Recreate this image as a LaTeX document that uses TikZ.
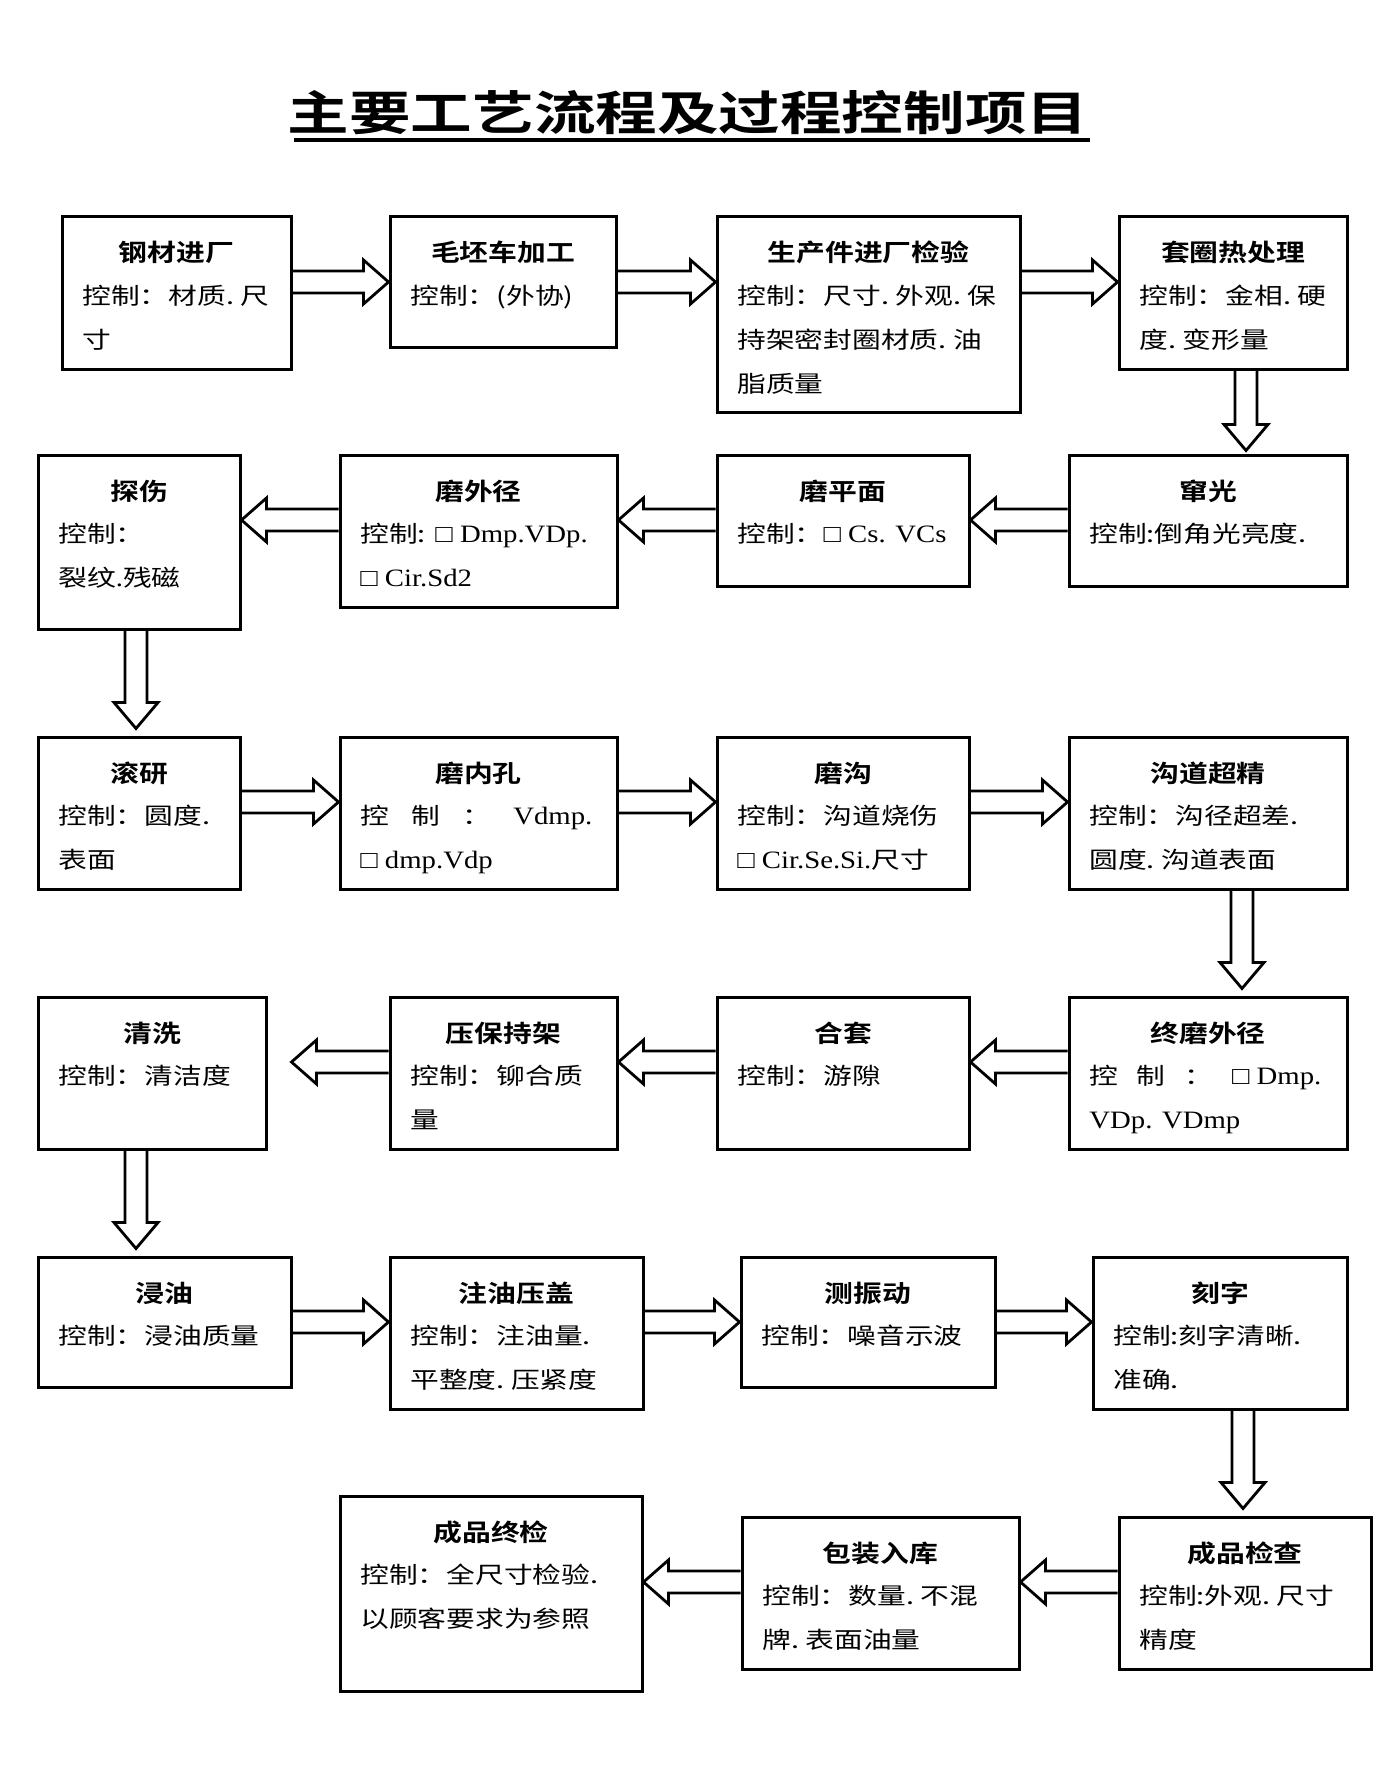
\documentclass[tikz,border=0pt]{standalone}
\usepackage{fontspec}
\usetikzlibrary{calc,fit}
\newfontfamily\cjk[FakeStretch=1.25]{Noto Sans CJK SC}
\newfontfamily\cjkbold[FakeStretch=1.2]{Noto Sans CJK SC Bold}
\newfontfamily\cjktitle[FakeStretch=1.31]{Noto Sans CJK SC Bold}
\newfontfamily\latf[FakeStretch=1.15]{Liberation Serif}
\newcommand\lt[1]{{\latf\fontsize{12.5pt}{22pt}\selectfont #1}}
\newcommand\pd{\makebox[7.2pt][l]{.}}
\tikzset{
  boxst/.style={draw, line width=1.5pt, inner sep=0pt},
  headst/.style={font=\cjkbold\fontsize{12pt}{14pt}\selectfont, inner sep=0pt, anchor=base},
  bodyst/.style={font=\cjk\fontsize{11.5pt}{22pt}\selectfont, inner sep=0pt, anchor=base west},
  arrst/.style={draw, line width=1.4pt, line join=miter}
}
\newcommand\pbox[7]{%
  \node[boxst, fit={(#2,#3)(#4,#5)}] (#1) {};
  \node[headst] (#1h) at ({(#2+#4)/2},{#3+45}) {#6};
  \foreach \t [count=\i] in {#7} {
    \node[bodyst] (#1l\i) at ({#2+20},{#3+43+44*\i}) {\t};
  }
}
\newcommand\rarr[2]{\draw[arrst] let \p1=(#1), \p2=(#2) in
  (\x1,{\y1+5.5pt}) -- ({\x2-12.5pt},{\y1+5.5pt}) -- ({\x2-12.5pt},{\y1+11pt}) -- (\x2,\y1)
  -- ({\x2-12.5pt},{\y1-11pt}) -- ({\x2-12.5pt},{\y1-5.5pt}) -- (\x1,{\y1-5.5pt});}
\newcommand\larr[2]{\draw[arrst] let \p1=(#1), \p2=(#2) in
  (\x1,{\y1+5.5pt}) -- ({\x2+12.5pt},{\y1+5.5pt}) -- ({\x2+12.5pt},{\y1+11pt}) -- (\x2,\y1)
  -- ({\x2+12.5pt},{\y1-11pt}) -- ({\x2+12.5pt},{\y1-5.5pt}) -- (\x1,{\y1-5.5pt});}
\newcommand\darr[2]{\draw[arrst] let \p1=(#1), \p2=(#2) in
  ({\x1+5.5pt},\y1) -- ({\x1+5.5pt},{\y2+13pt}) -- ({\x1+11pt},{\y2+13pt}) -- (\x1,\y2)
  -- ({\x1-11pt},{\y2+13pt}) -- ({\x1-5.5pt},{\y2+13pt}) -- ({\x1-5.5pt},\y1);}
\begin{document}
\begin{tikzpicture}[x=0.5pt,y=-0.5pt]
\useasboundingbox (0,0) rectangle (1377,1776);
\fill[white] (0,0) rectangle (1377,1776);
% title
\node[font=\cjktitle\fontsize{23.5pt}{28pt}\selectfont, inner sep=0pt] (title) at (688,113) {主要工艺流程及过程控制项目};
\draw[line width=1.6pt] (294,140) -- (1090,140);
% row coordinates
\coordinate (r1) at (0,282);
\coordinate (r2) at (0,520);
\coordinate (r3) at (0,802);
\coordinate (r4) at (0,1062);
\coordinate (r5) at (0,1322);
\coordinate (r6) at (0,1582);
\coordinate (c1) at (1246,0);
\coordinate (c2) at (136,0);
\coordinate (c3) at (1242,0);
\coordinate (c4) at (136,0);
\coordinate (c5) at (1243,0);
% row 1
\pbox{b1}{62}{217}{291}{369}{钢材进厂}{控制：材质\pd 尺,寸}
\pbox{b2}{390}{217}{616}{347}{毛坯车加工}{控制：(外协)}
\pbox{b3}{717}{217}{1020}{412}{生产件进厂检验}{控制：尺寸\pd 外观\pd 保,持架密封圈材质\pd 油,脂质量}
\pbox{b4}{1119}{217}{1347}{369}{套圈热处理}{控制：金相\pd 硬,度\pd 变形量}
% row 2
\pbox{b5}{1069}{455}{1347}{586}{窜光}{控制:倒角光亮度\pd}
\pbox{b6}{717}{455}{969}{586}{磨平面}{控制：\lt{□ Cs. VCs}}
\pbox{b7}{340}{455}{617}{607}{磨外径}{控制:\lt{ □ Dmp.VDp.},\lt{□ Cir.Sd2}}
\pbox{b8}{38}{455}{240}{629}{探伤}{控制：,裂纹\lt{.}残磁}
% row 3
\pbox{b9}{38}{737}{240}{889}{滚研}{控制：圆度\pd,表面}
\pbox{b10}{340}{737}{617}{889}{磨内孔}{\makebox[116pt][s]{控\hfill 制\hfill ：\hfill \lt{Vdmp.}},\lt{□ dmp.Vdp}}
\pbox{b11}{717}{737}{969}{889}{磨沟}{控制：沟道烧伤,\lt{□ Cir.Se.Si.}尺寸}
\pbox{b12}{1069}{737}{1347}{889}{沟道超精}{控制：沟径超差\pd,圆度\pd 沟道表面}
% row 4
\pbox{b13}{1069}{997}{1347}{1149}{终磨外径}{\makebox[116pt][s]{控\hfill 制\hfill ：\hfill \lt{□ Dmp.}},\lt{VDp. VDmp}}
\pbox{b14}{717}{997}{969}{1149}{合套}{控制：游隙}
\pbox{b15}{390}{997}{617}{1149}{压保持架}{控制：铆合质,量}
\pbox{b16}{38}{997}{266}{1149}{清洗}{控制：清洁度}
% row 5
\pbox{b17}{38}{1257}{291}{1387}{浸油}{控制：浸油质量}
\pbox{b18}{390}{1257}{643}{1409}{注油压盖}{控制：注油量\pd,平整度\pd 压紧度}
\pbox{b19}{741}{1257}{995}{1387}{测振动}{控制：噪音示波}
\pbox{b20}{1093}{1257}{1347}{1409}{刻字}{控制:刻字清晰\pd,准确\pd}
% row 6
\pbox{b21}{1119}{1517}{1371}{1669}{成品检查}{控制:外观\pd 尺寸,精度}
\pbox{b22}{742}{1517}{1019}{1669}{包装入库}{控制：数量\pd 不混,牌\pd 表面油量}
\pbox{b23}{340}{1496}{642}{1691}{成品终检}{控制：全尺寸检验\pd,以顾客要求为参照}
% arrows row 1
\rarr{b1.east|-r1}{b2.west|-r1}
\rarr{b2.east|-r1}{b3.west|-r1}
\rarr{b3.east|-r1}{b4.west|-r1}
\darr{b4.south-|c1}{$(b5.north-|c1)+(0,-3)$}
% row 2
\larr{b5.west|-r2}{b6.east|-r2}
\larr{b6.west|-r2}{b7.east|-r2}
\larr{b7.west|-r2}{b8.east|-r2}
\darr{b8.south-|c2}{$(b9.north-|c2)+(0,-7)$}
% row 3
\rarr{b9.east|-r3}{b10.west|-r3}
\rarr{b10.east|-r3}{b11.west|-r3}
\rarr{b11.east|-r3}{b12.west|-r3}
\darr{b12.south-|c3}{$(b13.north-|c3)+(0,-7)$}
% row 4
\larr{b13.west|-r4}{b14.east|-r4}
\larr{b14.west|-r4}{b15.east|-r4}
\larr{b15.west|-r4}{$(b16.east|-r4)+(24,0)$}
\darr{b16.south-|c4}{$(b17.north-|c4)+(0,-7)$}
% row 5
\rarr{b17.east|-r5}{b18.west|-r5}
\rarr{b18.east|-r5}{b19.west|-r5}
\rarr{b19.east|-r5}{b20.west|-r5}
\darr{b20.south-|c5}{$(b21.north-|c5)+(0,-7)$}
% row 6
\larr{b21.west|-r6}{b22.east|-r6}
\larr{b22.west|-r6}{b23.east|-r6}
\end{tikzpicture}
\end{document}
